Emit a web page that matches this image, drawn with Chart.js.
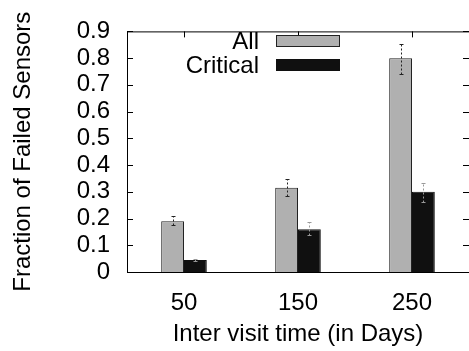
<!DOCTYPE html>
<html>
<head>
<meta charset="utf-8">
<script src="https://cdn.jsdelivr.net/npm/chart.js@4.4.1/dist/chart.umd.min.js"></script>
<style>
  html, body { margin: 0; padding: 0; background: #fff; }
</style>
</head>
<body>
<canvas id="c" width="469" height="351"></canvas>
<script>
// data
const visitDays = ['50', '150', '250'];
const allFailed = [0.19, 0.315, 0.80];
const allErrLow = [0.175, 0.283, 0.742];
const allErrHigh = [0.208, 0.348, 0.853];
const criticalFailed = [0.045, 0.16, 0.30];
const criticalErrLow = [0.041, 0.138, 0.262];
const criticalErrHigh = [0.05, 0.186, 0.334];
const yTicks = [0, 0.1, 0.2, 0.3, 0.4, 0.5, 0.6, 0.7, 0.8, 0.9];

const FONT = 'Liberation Sans';
const SIZE = 24;

// error bars, dashed like gnuplot
const errorBars = {
    id: 'errorBars',
    afterDatasetsDraw(chart) {
        const ctx = chart.ctx;
        const y = chart.scales.y;
        chart.data.datasets.forEach((ds, i) => {
            const meta = chart.getDatasetMeta(i);
            meta.data.forEach((bar, j) => {
                const lo = Math.round(y.getPixelForValue(ds.errLow[j])) + 0.5;
                const hi = Math.round(y.getPixelForValue(ds.errHigh[j])) + 0.5;
                const bx = Math.round(bar.x) + 0.5;
                ctx.save();
                ctx.strokeStyle = ds.errColor;
                ctx.lineWidth = 1;
                ctx.setLineDash([2, 2]);
                ctx.beginPath();
                ctx.moveTo(bx, lo);
                ctx.lineTo(bx, hi);
                ctx.stroke();
                ctx.setLineDash([]);
                ctx.beginPath();
                ctx.moveTo(bx - 2, lo);
                ctx.lineTo(bx + 2, lo);
                ctx.moveTo(bx - 2, hi);
                ctx.lineTo(bx + 2, hi);
                ctx.stroke();
                ctx.restore();
            });
        });
    }
};

// frame with inward ticks and the legend inside the plot
const frame = {
    id: 'frame',
    afterDraw(chart) {
        const ctx = chart.ctx;
        const a = chart.chartArea;
        const x = chart.scales.x;
        const y = chart.scales.y;
        ctx.save();
        ctx.strokeStyle = '#000';
        ctx.lineWidth = 1;
        ctx.beginPath();
        ctx.moveTo(a.left + 0.5, a.top + 0.5);
        ctx.lineTo(a.right, a.top + 0.5);
        ctx.moveTo(a.left + 0.5, a.top);
        ctx.lineTo(a.left + 0.5, a.bottom + 0.5);
        ctx.lineTo(a.right, a.bottom + 0.5);
        yTicks.forEach(v => {
            const py = Math.round(y.getPixelForValue(v)) + 0.5;
            ctx.moveTo(a.left, py);
            ctx.lineTo(a.left + 6, py);
            ctx.moveTo(a.right - 6, py);
            ctx.lineTo(a.right, py);
        });
        visitDays.forEach((_, i) => {
            const px = Math.round(x.getPixelForValue(i)) + 0.5;
            ctx.moveTo(px, a.top);
            ctx.lineTo(px, a.top + 6);
        });
        ctx.stroke();

        ctx.font = SIZE + 'px "' + FONT + '"';
        ctx.textAlign = 'right';
        ctx.textBaseline = 'middle';
        chart.data.datasets.forEach((ds, i) => {
            const cy = 41 + i * 24;
            ctx.fillStyle = '#000';
            ctx.fillText(ds.label, 259, cy + 1);
            ctx.fillStyle = ds.backgroundColor;
            ctx.fillRect(276, cy - 6, 64, 12);
            ctx.strokeStyle = ds.borderColor;
            ctx.strokeRect(276.5, cy - 5.5, 63, 11);
        });
        ctx.restore();
    }
};

new Chart(document.getElementById('c'), {
    type: 'bar',
    data: {
        labels: visitDays,
        datasets: [{
            label: 'All',
            data: allFailed,
            errLow: allErrLow,
            errHigh: allErrHigh,
            errColor: '#222',
            backgroundColor: '#b0b0b0',
            borderColor: '#222',
            borderWidth: 1,
            categoryPercentage: 0.4,
            barPercentage: 1.0
        }, {
            label: 'Critical',
            data: criticalFailed,
            errLow: criticalErrLow,
            errHigh: criticalErrHigh,
            errColor: '#999',
            backgroundColor: '#101010',
            borderColor: '#101010',
            borderWidth: 1,
            categoryPercentage: 0.4,
            barPercentage: 1.0
        }]
    },
    options: {
        responsive: false,
        animation: false,
        layout: { padding: { top: 24, right: 0, left: 0, bottom: 0 } },
        plugins: { legend: { display: false }, tooltip: { enabled: false } },
        scales: {
            x: {
                grid: { display: false, drawTicks: false },
                border: { display: false },
                ticks: { color: '#000', font: { family: FONT, size: SIZE }, padding: 17 },
                title: {
                    display: true,
                    text: 'Inter visit time (in Days)',
                    color: '#000',
                    font: { family: FONT, size: SIZE },
                    padding: { top: 0, bottom: 2 }
                },
                afterFit: s => { s.height = 79; }
            },
            y: {
                min: 0,
                max: 0.9,
                grid: { display: false, drawTicks: false },
                border: { display: false },
                ticks: {
                    stepSize: 0.1,
                    autoSkip: false,
                    color: '#000',
                    font: { family: FONT, size: SIZE },
                    padding: 17,
                    callback: v => String(+v.toFixed(1))
                },
                afterBuildTicks: s => { s.ticks = yTicks.map(v => ({ value: v })); },
                title: {
                    display: true,
                    text: 'Fraction of Failed Sensors',
                    color: '#000',
                    font: { family: FONT, size: SIZE },
                    padding: { top: 9, bottom: 0 }
                },
                afterFit: s => { s.width = 127; }
            }
        }
    },
    plugins: [errorBars, frame]
});
</script>
</body>
</html>
